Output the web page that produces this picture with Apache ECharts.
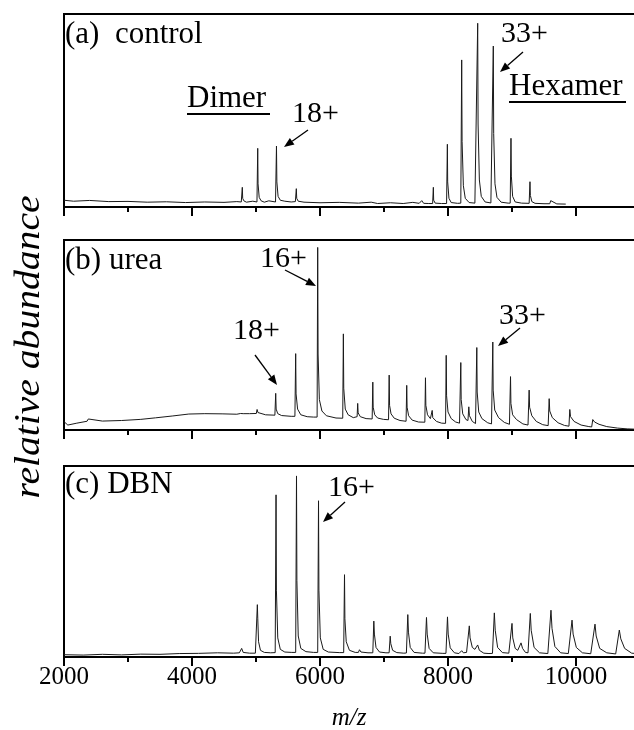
<!DOCTYPE html>
<html lang="en">
<head>
<meta charset="UTF-8">
<title>relative abundance vs m/z</title>
<script src="https://cdn.jsdelivr.net/npm/echarts@6/dist/echarts.min.js"></script>
<style>
  html, body { margin: 0; padding: 0; background: #fff; }
  #main { width: 634px; height: 730px; }
</style>
</head>
<body>
<div id="main"></div>
<script>
// x axis ticks (m/z)
var xMin = 2000, xMax = 12000, xStep = 2000;

// spectra: [m/z, % of panel height]
var specControl = [
  [2000,3.5],[2150,3.0],[2400,3.4],[2700,2.8],[3000,2.9],[3300,2.5],[3600,2.7],[3900,2.3],[4200,2.6],[4500,2.4],[4700,2.8],
  [4770,2.6],[4786,10.2],[4792,4.5],[4810,3.2],[4850,2.5],[4950,3.0],
  [5015,2.6],[5027,30.4],[5032,12],[5050,5],[5080,3.2],[5130,2.5],[5200,3.2],
  [5305,2.6],[5320,31.6],[5326,13],[5345,5.5],[5380,3.5],[5450,3],[5550,2.6],
  [5615,2.8],[5630,9.5],[5636,4.5],[5660,3.0],[5750,2.5],
  [6000,2.2],[6300,2.4],[6600,2.0],[6800,2.5],[6900,1.8],[7100,2.2],[7300,1.8],[7450,2.4],[7550,1.9],[7590,3.3],[7620,1.9],[7700,1.8],
  [7760,1.8],[7771,10.2],[7776,3.5],[7800,2.0],[7900,1.8],
  [7978,1.8],[7990,32.5],[7995,13],[8015,4.5],[8050,2.3],[8150,1.9],
  [8200,2.0],[8214,76.2],[8220,34],[8240,11],[8270,4.5],[8330,2.3],[8420,2.0],
  [8450,2.1],[8464,95.2],[8470,43],[8490,14],[8520,5.5],[8580,2.6],[8670,2.1],
  [8694,2.2],[8708,83.4],[8714,38],[8734,12],[8765,5],[8830,2.5],[8940,2.0],
  [8972,2.0],[8984,35.6],[8990,16],[9010,5.5],[9050,2.6],[9150,2.0],
  [9268,1.9],[9281,13.1],[9287,6],[9310,2.8],[9360,1.9],[9500,1.7],
  [9590,1.7],[9605,3.3],[9630,2.3],[9700,1.6],[9840,1.5]
];

var specUrea = [
  [2000,4.4],[2060,2.6],[2200,3.6],[2360,4.6],[2380,5.8],[2400,4.8],[2600,4.7],[2900,5.0],[3200,5.6],[3430,6.4],[3700,7.4],[3950,8.4],
  [4200,8.6],[4470,8.5],[4700,8.3],[4760,8.7],[4780,9.4],[4800,8.6],[4900,8.6],
  [5005,8.7],[5017,10.8],[5030,9.2],[5150,8.0],
  [5295,7.8],[5308,19.3],[5315,11],[5340,8.6],[5400,7.6],[5550,7.2],
  [5608,7.2],[5620,40.2],[5626,19],[5650,11],[5700,8],[5800,7.0],[5900,6.8],
  [5955,6.8],[5964,96.1],[5970,40],[5990,16],[6030,10],[6100,7.5],[6250,6.3],
  [6355,6.2],[6365,50.6],[6371,22],[6395,11],[6440,8],[6520,6.5],
  [6580,7.0],[6589,14],[6596,9],[6630,7],[6720,6.0],
  [6815,5.8],[6825,25.2],[6831,12],[6855,8],[6900,6.3],[6990,5.6],
  [7071,5.4],[7081,28.9],[7087,13],[7110,8.5],[7160,6.2],[7250,5.0],
  [7345,4.6],[7355,23.5],[7361,12],[7385,7.5],[7440,5.2],[7540,4.2],
  [7638,4.1],[7648,27.5],[7654,13],[7680,8],[7725,6],
  [7742,6],[7753,10.3],[7762,6.5],[7820,4.5],[7900,3.6],
  [7962,3.5],[7972,39.3],[7978,18],[8000,9.5],[8050,6],[8120,4.2],[8180,3.6],
  [8190,3.5],[8200,35.5],[8206,16],[8230,8.5],[8280,5.5],
  [8312,5],[8325,12.2],[8335,7.5],[8380,4.5],[8430,3.4],
  [8440,3.3],[8450,43.4],[8456,20],[8480,9.5],[8530,6],[8620,3.8],[8680,3.2],
  [8690,3.1],[8700,46.3],[8706,21],[8730,10.5],[8790,6.5],[8880,4],[8960,3],
  [8967,2.9],[8977,28.1],[8983,14],[9010,8],[9070,5.5],[9170,3.2],[9250,2.6],
  [9258,2.6],[9268,21],[9275,12],[9310,7.5],[9380,4.5],[9480,2.8],[9565,2.3],
  [9571,2.3],[9581,16.5],[9590,10],[9630,6.5],[9720,3.8],[9820,2.4],[9890,2.0],
  [9893,2.0],[9903,10.8],[9915,7],[9970,4.5],[10080,2.6],[10200,1.8],[10245,1.6],
  [10252,1.6],[10262,5.5],[10290,4.2],[10360,3],[10480,1.8],[10650,1.0],[10800,0.6],[10950,0.4]
];

var specDBN = [
  [2000,1.2],[2300,1.0],[2600,1.4],[2900,1.1],[3200,1.5],[3500,1.4],[3800,1.8],[4100,1.9],[4400,2.2],[4650,2.0],
  [4740,2.2],[4776,4.5],[4800,2.4],[4900,2.0],[4990,2.0],
  [5005,2.2],[5021,27.4],[5028,20],[5040,8],[5070,3.5],[5130,2.4],[5230,2.2],
  [5300,2.3],[5313,84.9],[5319,35],[5340,10],[5380,4],[5450,2.6],[5560,2.4],
  [5620,2.4],[5633,94.8],[5639,40],[5660,11],[5700,4.5],[5780,2.8],[5900,2.4],
  [5964,2.4],[5977,81.8],[5983,35],[6005,10],[6050,4],[6130,2.6],[6300,2.3],
  [6370,2.3],[6383,43.1],[6389,20],[6410,8],[6460,3.5],[6550,2.4],
  [6600,2.4],[6617,3.8],[6640,2.6],[6750,2.2],
  [6825,2.2],[6841,18.8],[6850,12],[6875,5],[6930,2.6],[7030,2.2],
  [7080,2.2],[7097,10.9],[7106,7],[7135,3.5],[7200,2.3],[7310,2.0],
  [7350,2.1],[7372,22.2],[7382,13],[7410,5],[7470,2.4],[7600,2.0],
  [7640,2.0],[7664,20.7],[7675,12],[7705,4.5],[7770,2.2],[7920,1.9],
  [7968,1.9],[7992,21],[8003,12],[8035,4.8],[8100,2.2],[8170,1.8],
  [8195,1.8],[8214,3.3],[8240,2.2],[8290,2.4],
  [8315,3],[8333,16.3],[8345,10],[8380,5],[8420,4],
  [8450,4],[8464,6.3],[8490,3.5],[8560,2.0],[8640,1.8],
  [8695,1.9],[8724,23.1],[8738,14],[8775,5],[8850,2.3],[8950,2.0],
  [8980,2.0],[9000,17.6],[9012,10],[9050,4.5],[9090,3.5],
  [9115,3.6],[9141,7.4],[9165,4.5],[9210,2.4],[9250,2.2],
  [9260,2.3],[9286,22.8],[9300,14],[9345,5],[9430,2.2],[9560,1.8],
  [9580,1.8],[9609,24.5],[9625,15],[9670,5.5],[9760,2.2],[9880,1.8],
  [9905,1.8],[9938,19.3],[9955,12],[10005,5],[10100,2.2],[10230,1.7],
  [10260,1.7],[10297,17.2],[10315,11],[10370,4.5],[10480,2.2],[10620,1.6],
  [10640,1.6],[10677,14.1],[10700,9.5],[10760,4.5],[10870,2.0],[10950,1.8]
];

var spectra = [specControl, specUrea, specDBN];
var panelTops = [14, 240, 466];
var panelHeights = [193, 190, 191];

var serif = '"Liberation Serif", "DejaVu Serif", serif';
var myChart = echarts.init(document.getElementById('main'));

var grids = [], xAxes = [], yAxes = [], series = [];
for (var i = 0; i < 3; i++) {
    grids.push({
        left: 64, right: -70, top: panelTops[i], height: panelHeights[i],
        show: true, borderColor: '#000', borderWidth: 2,
        containLabel: false, outerBoundsMode: 'none'
    });
    xAxes.push({
        gridIndex: i, type: 'value', min: xMin, max: xMax, interval: xStep,
        axisLine: { show: true, onZero: false, lineStyle: { color: '#000', width: 2 } },
        axisTick: { show: true, length: 9, lineStyle: { color: '#000', width: 2 } },
        minorTick: { show: true, splitNumber: 2, length: 5, lineStyle: { color: '#000', width: 2 } },
        splitLine: { show: false },
        axisLabel: {
            show: i === 2, color: '#000', fontFamily: serif, fontSize: 25, margin: 8,
            formatter: function (v) { return String(v); }
        }
    });
    yAxes.push({ gridIndex: i, type: 'value', min: 0, max: 100, show: false, splitLine: { show: false } });
    series.push({
        type: 'line', xAxisIndex: i, yAxisIndex: i, data: spectra[i],
        showSymbol: false, silent: true,
        lineStyle: { color: '#1a1a1a', width: 1 }
    });
}

// text labels and arrows
function txt(s, x, y, size, opts) {
    opts = opts || {};
    var el = {
        type: 'text', x: x, y: y,
        rotation: opts.rotation || 0,
        scaleX: opts.scaleX || 1,
        style: {
            text: s, fill: '#000',
            font: (opts.italic ? 'italic ' : '') + size + 'px ' + serif,
            align: opts.align || 'left', textAlign: opts.align || 'left',
            verticalAlign: 'middle', textVerticalAlign: 'middle'
        }
    };
    return el;
}
function rule(x1, x2, y) {
    return { type: 'line', shape: { x1: x1, y1: y, x2: x2, y2: y }, style: { stroke: '#000', lineWidth: 2 } };
}
function arrow(x1, y1, x2, y2) {
    var a = Math.atan2(y2 - y1, x2 - x1), L = 10, W = 4;
    var bx = x2 - L * Math.cos(a), by = y2 - L * Math.sin(a);
    var px = -Math.sin(a) * W, py = Math.cos(a) * W;
    return [
        { type: 'line', shape: { x1: x1, y1: y1, x2: bx, y2: by }, style: { stroke: '#000', lineWidth: 1.3 } },
        { type: 'polygon', shape: { points: [[x2, y2], [bx + px, by + py], [bx - px, by - py]] }, style: { fill: '#000' } }
    ];
}

var graphics = [
    txt('(a)  control', 65, 35, 31),
    txt('Dimer', 187, 99, 31), rule(187, 270, 114),
    txt('18+', 292, 114, 30),
    txt('Hexamer', 509, 87, 31), rule(509, 626, 102),
    txt('33+', 501, 34, 30),
    txt('(b) urea', 65, 261, 31),
    txt('16+', 260, 259, 30),
    txt('18+', 233, 331, 30),
    txt('33+', 499, 316, 30),
    txt('(c) DBN', 65, 485, 31),
    txt('16+', 328, 488, 30),
    txt('m/z', 349, 718, 25, { italic: true, align: 'center' }),
    txt('relative abundance', 30, 347, 36, { italic: true, align: 'center', rotation: Math.PI / 2, scaleX: 1.1 })
];
graphics = graphics
    .concat(arrow(308, 130, 284, 147))
    .concat(arrow(523, 52, 500, 72))
    .concat(arrow(285, 270, 316, 286))
    .concat(arrow(255, 355, 277, 385))
    .concat(arrow(520, 328, 498, 346))
    .concat(arrow(345, 502, 323, 522));

var option = {
    animation: false,
    backgroundColor: '#fff',
    grid: grids,
    xAxis: xAxes,
    yAxis: yAxes,
    series: series,
    graphic: graphics
};
myChart.setOption(option);
</script>
</body>
</html>
